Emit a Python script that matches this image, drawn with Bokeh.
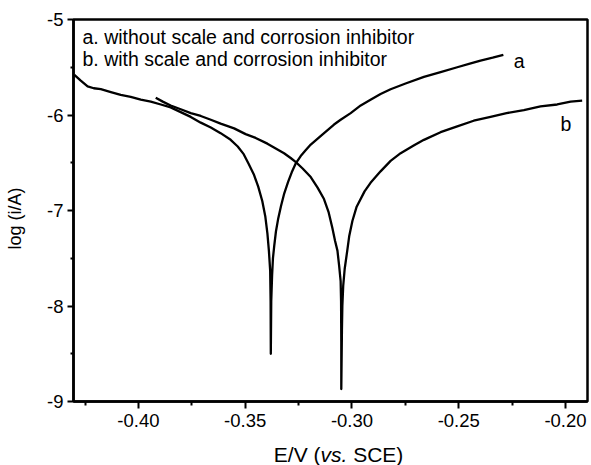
import math
from bokeh.plotting import figure
from bokeh.models import Range1d, FixedTicker, PrintfTickFormatter, Label
from bokeh.layouts import column, row
from bokeh.core.properties import value
from bokeh.embed import file_html
from bokeh.resources import INLINE

# ---------------- data ----------------
# curve a: without scale and corrosion inhibitor
E_a = [-0.4300, -0.4270, -0.4238, -0.4209, -0.4176, -0.4129, -0.4083, -0.4036,
       -0.3989, -0.3942, -0.3895, -0.3849, -0.3802, -0.3755, -0.3708, -0.3661,
       -0.3615, -0.3568, -0.3535, -0.3507, -0.3484, -0.3460, -0.3439, -0.3420,
       -0.3406, -0.3396, -0.3389, -0.3383, -0.3381, -0.3380,
       -0.3378, -0.3374, -0.3370, -0.3364, -0.3356, -0.3345, -0.3332, -0.3317,
       -0.3299, -0.3282, -0.3264, -0.3240, -0.3217, -0.3193, -0.3147, -0.3084,
       -0.3053, -0.3006, -0.2959, -0.2913, -0.2866, -0.2819, -0.2749, -0.2663,
       -0.2585, -0.2507, -0.2444, -0.2398, -0.2341, -0.2291]
logI_a = [-5.58, -5.64, -5.70, -5.72, -5.73, -5.76, -5.79, -5.81,
          -5.84, -5.86, -5.89, -5.92, -5.97, -6.02, -6.08, -6.13,
          -6.19, -6.26, -6.33, -6.41, -6.51, -6.62, -6.75, -6.90,
          -7.06, -7.24, -7.42, -7.63, -7.95, -8.50,
          -7.95, -7.68, -7.50, -7.37, -7.22, -7.08, -6.95, -6.82,
          -6.70, -6.60, -6.51, -6.43, -6.37, -6.31, -6.22, -6.10,
          -6.05, -5.98, -5.90, -5.84, -5.78, -5.73, -5.67, -5.60,
          -5.55, -5.50, -5.46, -5.43, -5.40, -5.37]

# curve b: with scale and corrosion inhibitor
E_b = [-0.3919, -0.3886, -0.3849, -0.3802, -0.3755, -0.3708, -0.3661, -0.3615,
       -0.3552, -0.3498, -0.3451, -0.3396, -0.3357, -0.3318, -0.3287, -0.3264,
       -0.3231, -0.3193, -0.3161, -0.3131, -0.3109, -0.3092, -0.3079, -0.3068,
       -0.3060, -0.3053, -0.3051, -0.3050, -0.3050,
       -0.3047, -0.3045, -0.3041, -0.3034, -0.3022, -0.3013, -0.2998, -0.2978,
       -0.2941, -0.2913, -0.2866, -0.2819, -0.2772, -0.2711, -0.2663, -0.2585,
       -0.2507, -0.2430, -0.2351, -0.2276, -0.2195, -0.2117, -0.2039, -0.1976,
       -0.1922]
logI_b = [-5.82, -5.86, -5.90, -5.94, -5.98, -6.01, -6.05, -6.09,
          -6.14, -6.20, -6.24, -6.30, -6.35, -6.40, -6.45, -6.49,
          -6.56, -6.65, -6.76, -6.88, -7.02, -7.18, -7.32, -7.42,
          -7.58, -7.74, -7.95, -8.37, -8.87,
          -8.26, -8.00, -7.79, -7.61, -7.42, -7.27, -7.11, -6.96,
          -6.80, -6.71, -6.59, -6.48, -6.40, -6.32, -6.26, -6.18,
          -6.12, -6.06, -6.02, -5.98, -5.95, -5.91, -5.89, -5.86,
          -5.85]

x_ticks = [-0.40, -0.35, -0.30, -0.25, -0.20]
x_minor = [-0.425, -0.375, -0.325, -0.275, -0.225]
y_ticks = [-9, -8, -7, -6, -5]
y_minor = [-8.5, -7.5, -6.5, -5.5]

legend_lines = ["a. without scale and corrosion inhibitor",
                "b. with scale and corrosion inhibitor"]
legend_baselines = [-5.182, -5.417]
curve_names = ["a", "b"]
curve_label_pos = [(-0.2242, -5.432), (-0.2023, -6.092)]
x_title = ["E/V (", "vs.", "SCE)"]
y_title = "log (i/A)"

# ---------------- layout ----------------
PAGE_W, PAGE_H = 591, 465
LW = 30                       # left strip holding the y title
W = PAGE_W - LW
H_MAIN, H_TITLE = 437, 28
FRAME_LEFT = 73               # page x of the plot frame's left edge
ML, MR, MT, MB = FRAME_LEFT - LW, 4, 19, 36
X0, X1 = -0.4304, -0.1897
Y0, Y1 = -9.0, -5.0
FW = W - ML - MR
PXX = FW / (X1 - X0)

FONT = "Liberation Sans"

p = figure(width=W, height=H_MAIN, output_backend="svg", toolbar_location=None,
           x_range=Range1d(X0, X1), y_range=Range1d(Y0, Y1),
           min_border_left=ML, min_border_right=MR,
           min_border_top=MT, min_border_bottom=MB)
p.background_fill_color = "white"
p.border_fill_color = "white"
p.outline_line_color = "black"
p.outline_line_width = 2.5
p.outline_line_alpha = 1.0
p.xgrid.visible = False
p.ygrid.visible = False

for ax, ticks, minor, fmt in ((p.xaxis[0], x_ticks, x_minor, "%.2f"),
                              (p.yaxis[0], y_ticks, y_minor, "%d")):
    ax.ticker = FixedTicker(ticks=ticks, minor_ticks=minor)
    ax.formatter = PrintfTickFormatter(format=fmt)
    ax.axis_line_width = 2.5
    ax.axis_line_color = "black"
    ax.major_tick_line_width = 2
    ax.minor_tick_line_width = 2
    ax.major_tick_line_color = "black"
    ax.minor_tick_line_color = "black"
    ax.major_tick_in = 0
    ax.minor_tick_in = 0
    ax.major_label_text_font = FONT
    ax.major_label_text_font_size = "18.5px"
    ax.major_label_text_color = "black"

p.xaxis.major_tick_out = 7
p.xaxis.minor_tick_out = 4
p.xaxis.major_label_standoff = 5
p.yaxis.major_tick_out = 6
p.yaxis.minor_tick_out = 3
p.yaxis.major_label_standoff = 4

p.line(E_a, logI_a, line_color="black", line_width=2.3, line_join="round")
p.line(E_b, logI_b, line_color="black", line_width=2.3, line_join="round")

# legend text
leg_x = X0 + (82 - FRAME_LEFT) / PXX
for txt, yb in zip(legend_lines, legend_baselines):
    p.add_layout(Label(x=leg_x, y=yb, text=txt, text_font=FONT,
                       text_font_size="19.5px", text_color="black",
                       text_align="left", text_baseline="alphabetic"))

# curve labels
for txt, (xl, yb) in zip(curve_names, curve_label_pos):
    p.add_layout(Label(x=xl, y=yb, text=txt, text_font=FONT,
                       text_font_size="19.5px", text_color="black",
                       text_align="left", text_baseline="alphabetic"))

# x axis title strip (shares the x scale; italic "vs.")
p2 = figure(width=W, height=H_TITLE, output_backend="svg", toolbar_location=None,
            x_range=p.x_range, y_range=Range1d(0, H_TITLE),
            x_axis_type=None, y_axis_type=None,
            min_border_left=ML, min_border_right=MR,
            min_border_top=0, min_border_bottom=0)
p2.outline_line_color = None
p2.background_fill_color = "white"
p2.border_fill_color = "white"
p2.grid.visible = False

fs = 21
c_px = 333.4                     # page x of the centre of "vs."
half_vs = 1278 / 1000 * fs / 2   # half width of italic "vs."
space = 278 / 1000 * fs          # width of a space
yb = H_TITLE - 16.5              # anchor
common = dict(text_font=value(FONT), text_font_size=value(f"{fs}px"),
              text_color="black", text_baseline=value("alphabetic"))
p2.text(x=[X0 + (c_px - half_vs - FRAME_LEFT) / PXX], y=[yb], text=[x_title[0]],
        text_align=value("right"), text_font_style=value("normal"), **common)
p2.text(x=[X0 + (c_px - FRAME_LEFT) / PXX], y=[yb], text=[x_title[1]],
        text_align=value("center"), text_font_style=value("italic"), **common)
p2.text(x=[X0 + (c_px + half_vs + space - FRAME_LEFT) / PXX], y=[yb], text=[x_title[2]],
        text_align=value("left"), text_font_style=value("normal"), **common)

# y axis title strip on the left
pl = figure(width=LW, height=PAGE_H, output_backend="svg", toolbar_location=None,
            x_range=Range1d(0, LW), y_range=Range1d(0, PAGE_H),
            x_axis_type=None, y_axis_type=None,
            min_border_left=0, min_border_right=0,
            min_border_top=0, min_border_bottom=0)
pl.outline_line_color = None
pl.background_fill_color = "white"
pl.border_fill_color = "white"
pl.grid.visible = False
pl.text(x=[14], y=[PAGE_H - 218], text=[y_title], angle=math.pi / 2,
        text_font=value(FONT), text_font_size=value("18px"), text_color="black",
        text_font_style=value("normal"),
        text_align=value("center"), text_baseline=value("middle"))

layout = row(pl, column(p, p2, spacing=0), spacing=0)
open("out.html", "w").write(file_html(layout, INLINE))
